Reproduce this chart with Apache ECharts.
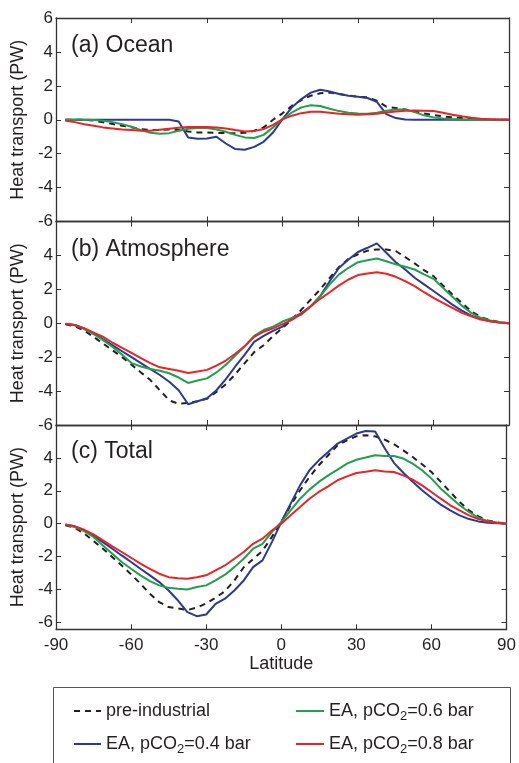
<!DOCTYPE html>
<html>
<head>
<meta charset="utf-8">
<script src="https://cdn.jsdelivr.net/npm/echarts@6/dist/echarts.min.js"></script>
<style>
html, body { margin: 0; padding: 0; background: #fff; }
#main { width: 519px; height: 763px; }
</style>
</head>
<body>
<div id="main"></div>
<script>
// latitude grid (deg)
var lats = [-86.25, -82.5, -78.75, -75, -71.25, -67.5, -63.75, -60, -56.25, -52.5, -48.75, -45,
  -41.25, -37.5, -33.75, -30, -26.25, -22.5, -18.75, -15, -11.25, -7.5, -3.75, 0,
  3.75, 7.5, 11.25, 15, 18.75, 22.5, 26.25, 30, 33.75, 37.5, 41.25, 45,
  48.75, 52.5, 56.25, 60, 63.75, 67.5, 71.25, 75, 78.75, 82.5, 86.25, 90];

var xTicks = [-90, -60, -30, 0, 30, 60, 90];
var yTicks = [-6, -4, -2, 0, 2, 4, 6];

var names = ['pre-industrial', 'EA, pCO2=0.4 bar', 'EA, pCO2=0.6 bar', 'EA, pCO2=0.8 bar'];
var panelTitles = ['(a) Ocean', '(b) Atmosphere', '(c) Total'];

// (a) ocean heat transport, PW
var oceanPre = [0, 0, 0, -0.05, -0.15, -0.25, -0.35, -0.45, -0.55, -0.6, -0.6, -0.57,
  -0.6, -0.69, -0.75, -0.75, -0.77, -0.79, -0.8, -0.77, -0.65, -0.45, 0.0, 0.38,
  0.83, 1.16, 1.42, 1.56, 1.6, 1.52, 1.42, 1.36, 1.32, 1.12, 0.77, 0.69,
  0.61, 0.49, 0.37, 0.28, 0.2, 0.14, 0.1, 0.06, 0.03, 0.01, 0, 0];
var ocean04 = [0, 0, 0, 0, 0, 0, 0, 0, 0, 0, 0, 0,
  -0.1, -1.05, -1.12, -1.1, -1.0, -1.4, -1.73, -1.77, -1.6, -1.3, -0.75, 0.04,
  0.73, 1.22, 1.6, 1.77, 1.67, 1.52, 1.42, 1.36, 1.28, 1.06, 0.33, 0.1,
  0.02, 0, 0, 0, 0, 0, 0, 0, 0, 0, 0, 0];
var ocean06 = [0, 0, 0, -0.02, -0.06, -0.14, -0.26, -0.41, -0.61, -0.77, -0.83, -0.79,
  -0.65, -0.53, -0.49, -0.49, -0.57, -0.71, -0.89, -1.04, -1.08, -0.89, -0.45, 0.04,
  0.43, 0.73, 0.85, 0.81, 0.65, 0.51, 0.41, 0.37, 0.35, 0.41, 0.53, 0.61,
  0.61, 0.45, 0.26, 0.14, 0.08, 0.04, 0.02, 0, 0, 0, 0, 0];
var ocean08 = [-0.06, -0.14, -0.26, -0.35, -0.45, -0.51, -0.57, -0.61, -0.65, -0.65, -0.59, -0.53,
  -0.47, -0.43, -0.43, -0.43, -0.45, -0.51, -0.61, -0.69, -0.67, -0.55, -0.3, 0.02,
  0.24, 0.39, 0.47, 0.47, 0.41, 0.35, 0.32, 0.3, 0.32, 0.35, 0.43, 0.49,
  0.53, 0.55, 0.53, 0.51, 0.41, 0.3, 0.2, 0.12, 0.06, 0.03, 0.01, 0];

// (b) atmosphere
var atmosPre = [-0.06, -0.18, -0.43, -0.81, -1.2, -1.6, -2.0, -2.44, -2.9, -3.35, -3.95, -4.55,
  -4.75, -4.7, -4.6, -4.45, -4.05, -3.6, -3.0, -2.35, -1.7, -1.3, -0.75, -0.28,
  0.22, 0.8, 1.4, 2.0, 2.68, 3.33, 3.8, 4.06, 4.28, 4.35, 4.35, 4.26,
  3.9, 3.53, 3.13, 2.78, 2.23, 1.7, 1.2, 0.71, 0.37, 0.18, 0.06, 0];
var atmos04 = [-0.04, -0.1, -0.3, -0.6, -0.95, -1.3, -1.65, -2.0, -2.35, -2.7, -3.05, -3.45,
  -3.95, -4.78, -4.6, -4.42, -3.95, -3.3, -2.55, -1.85, -1.1, -0.75, -0.45, -0.2,
  0.3, 0.6, 1.0, 1.6, 2.48, 3.27, 3.76, 4.2, 4.45, 4.71, 4.16, 3.6,
  3.17, 2.68, 2.29, 1.9, 1.5, 1.1, 0.75, 0.45, 0.26, 0.12, 0.04, 0];
var atmos06 = [-0.03, -0.12, -0.35, -0.65, -1.0, -1.4, -1.85, -2.35, -2.55, -2.7, -2.8, -2.95,
  -3.2, -3.52, -3.38, -3.25, -2.9, -2.45, -1.9, -1.35, -0.75, -0.4, -0.2, 0.1,
  0.32, 0.51, 1.0, 1.6, 2.29, 2.88, 3.27, 3.6, 3.72, 3.82, 3.66, 3.47,
  3.33, 3.17, 2.88, 2.62, 2.09, 1.56, 1.04, 0.61, 0.32, 0.16, 0.06, 0];
var atmos08 = [-0.03, -0.1, -0.3, -0.55, -0.8, -1.15, -1.45, -1.75, -2.05, -2.35, -2.6, -2.7,
  -2.8, -2.93, -2.85, -2.75, -2.5, -2.2, -1.8, -1.35, -0.8, -0.5, -0.3, -0.05,
  0.2, 0.55, 1.0, 1.44, 1.83, 2.23, 2.58, 2.84, 2.94, 3.01, 2.92, 2.74,
  2.48, 2.19, 1.83, 1.5, 1.2, 0.91, 0.61, 0.41, 0.22, 0.12, 0.04, 0];

// (c) total
var totalPre = [-0.1, -0.24, -0.6, -1.05, -1.52, -2.03, -2.54, -3.08, -3.65, -4.26, -4.77, -5.07,
  -5.15, -5.25, -5.1, -4.85, -4.5, -4.1, -3.45, -2.65, -2.15, -1.65, -0.8, 0.1,
  1.12, 2.03, 2.84, 3.55, 4.16, 4.77, 5.07, 5.31, 5.38, 5.31, 5.11, 4.83,
  4.46, 4.06, 3.61, 3.14, 2.54, 1.93, 1.32, 0.81, 0.45, 0.2, 0.08, 0];
var total04 = [-0.04, -0.16, -0.4, -0.71, -1.12, -1.52, -1.93, -2.33, -2.74, -3.14, -3.55, -4.06,
  -4.67, -5.38, -5.62, -5.52, -4.87, -4.56, -4.06, -3.45, -2.64, -2.23, -1.12, 0.1,
  1.22, 2.33, 3.25, 3.85, 4.36, 4.87, 5.17, 5.48, 5.64, 5.6, 4.6, 3.7,
  3.1, 2.55, 2.03, 1.58, 1.16, 0.81, 0.51, 0.28, 0.14, 0.06, 0.02, 0];
var total06 = [-0.06, -0.2, -0.45, -0.81, -1.32, -1.83, -2.33, -2.74, -3.14, -3.49, -3.75, -3.9,
  -3.96, -4.0, -3.85, -3.75, -3.45, -3.1, -2.64, -2.13, -1.52, -1.22, -0.51, 0.1,
  0.81, 1.52, 2.07, 2.54, 2.94, 3.29, 3.65, 3.89, 4.02, 4.16, 4.12, 4.12,
  3.96, 3.65, 3.25, 2.74, 2.13, 1.62, 1.12, 0.71, 0.37, 0.16, 0.06, 0];
var total08 = [-0.06, -0.16, -0.37, -0.65, -1.01, -1.38, -1.72, -2.07, -2.43, -2.74, -3.04, -3.25,
  -3.31, -3.35, -3.25, -3.14, -2.84, -2.54, -2.13, -1.72, -1.22, -0.91, -0.41, 0,
  0.51, 1.01, 1.52, 1.93, 2.27, 2.64, 2.88, 3.08, 3.16, 3.25, 3.18, 3.14,
  2.94, 2.68, 2.33, 1.93, 1.52, 1.12, 0.81, 0.51, 0.28, 0.14, 0.06, 0];

var panels = [
  [oceanPre, ocean04, ocean06, ocean08],
  [atmosPre, atmos04, atmos06, atmos08],
  [totalPre, total04, total06, total08]
];

var colors = ['#231f20', '#2b3990', '#1fa04a', '#ec2227'];
var font = 'Liberation Sans, Arial, sans-serif';
var txt = '#231f20';
var axisCol = '#333';

var chart = echarts.init(document.getElementById('main'));

var grids = [
  { left: 56, top: 18, width: 453, height: 203.5 },
  { left: 56, top: 221.5, width: 453, height: 203.5 },
  { left: 56, top: 425, width: 453, height: 204.3 }
];

var xAxes = [], yAxes = [], series = [];
grids.forEach(function (g, gi) {
  ['bottom', 'top'].forEach(function (pos) {
    var main = pos === 'bottom';
    xAxes.push({
      gridIndex: gi, type: 'value', position: pos,
      min: -90, max: 90, interval: 30,
      axisLine: { onZero: false, lineStyle: { color: axisCol, width: 1.3 } },
      axisTick: { inside: true, length: 5, lineStyle: { color: axisCol } },
      axisLabel: { show: main && gi === 2, margin: 8, color: txt, fontFamily: font, fontSize: 17,
        customValues: xTicks },
      splitLine: { show: false },
      name: main && gi === 2 ? 'Latitude' : '',
      nameLocation: 'middle', nameGap: 25,
      nameTextStyle: { color: txt, fontFamily: font, fontSize: 18 }
    });
  });
  ['left', 'right'].forEach(function (pos) {
    var main = pos === 'left';
    var vals = gi === 0 ? yTicks : yTicks.slice(0, 6);
    yAxes.push({
      gridIndex: gi, type: 'value', position: pos,
      min: gi === 2 ? -6.42 : -6, max: 6,
      axisLine: { onZero: false, lineStyle: { color: axisCol, width: 1.3 } },
      axisTick: { inside: true, length: 5, lineStyle: { color: axisCol }, customValues: vals },
      axisLabel: { show: main, margin: 3, color: txt, fontFamily: font, fontSize: 17,
        customValues: vals },
      splitLine: { show: false },
      name: main ? 'Heat transport (PW)' : '',
      nameLocation: 'middle', nameGap: 19,
      nameTextStyle: { color: txt, fontFamily: font, fontSize: 18 }
    });
  });
  panels[gi].forEach(function (arr, k) {
    series.push({
      name: names[k], type: 'line',
      xAxisIndex: gi * 2, yAxisIndex: gi * 2,
      data: lats.map(function (la, i) { return [la, arr[i]]; }),
      showSymbol: false, symbol: 'none', silent: true,
      lineStyle: { color: colors[k], width: 2, type: k === 0 ? [6, 5] : 'solid' },
      itemStyle: { color: colors[k] }
    });
  });
});

var legendText = {
  color: txt, fontFamily: font, fontSize: 18, lineHeight: 24,
  rich: { sub: { fontFamily: font, fontSize: 13, lineHeight: 14, color: txt, padding: [10, 0, 0, 0] } }
};
function legendFmt(n) { return n.replace('pCO2', 'pCO{sub|2}'); }
// hide the marker that line legends draw in the middle of the icon
var noMarker = { color: 'rgba(0,0,0,0)', borderWidth: 0 };

var option = {
  backgroundColor: '#fff',
  animation: false,
  title: panelTitles.map(function (t, i) {
    return { text: t, left: 71, top: [34, 238, 440][i], padding: 0,
      textStyle: { color: txt, fontFamily: font, fontSize: 23, fontWeight: 'normal' } };
  }),
  grid: grids,
  xAxis: xAxes,
  yAxis: yAxes,
  legend: [
    { data: [names[0], names[1]], left: 73, top: 699, orient: 'vertical', padding: 0,
      itemWidth: 27, itemHeight: 14, itemGap: 9, itemStyle: noMarker,
      formatter: legendFmt, textStyle: legendText },
    { data: [names[2], names[3]], left: 295, top: 699, orient: 'vertical', padding: 0,
      itemWidth: 28, itemHeight: 14, itemGap: 9, itemStyle: noMarker,
      formatter: legendFmt, textStyle: legendText }
  ],
  graphic: [{
    type: 'rect', silent: true,
    shape: { x: 53.5, y: 687.5, width: 457, height: 110 },
    style: { fill: 'none', stroke: '#555', lineWidth: 1 }
  }],
  series: series
};

chart.setOption(option);
</script>
</body>
</html>
